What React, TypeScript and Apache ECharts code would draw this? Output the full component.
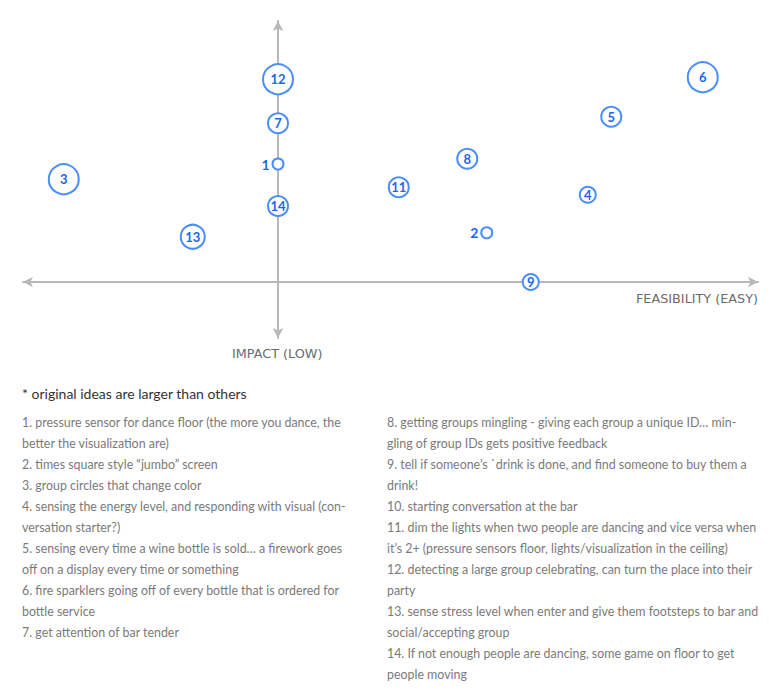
import React, { useEffect, useRef } from "react";
import * as echarts from "echarts";

// idea number, feasibility (x), impact (y)
const ideaIds = [1, 2, 3, 4, 5, 6, 7, 8, 9, 11, 12, 13, 14];
const feasibility = [0, 8.35, -8.57, 12.39, 13.33, 16.99, 0, 7.57, 10.11, 4.83, 0, -3.41, 0];
const impact = [4.72, 1.97, 4.11, 3.49, 6.61, 8.19, 6.35, 4.93, 0, 3.79, 8.11, 1.81, 3.04];
// relative size of each idea's marker (original ideas are larger)
const ideaWeight = [1, 1, 5, 2, 3, 5, 3, 3, 2, 3, 5, 4, 3];

const xAxisName = "FEASIBILITY (EASY)";
const yAxisName = "IMPACT (LOW)";
const footnote = "* original ideas are larger than others";

const leftColumn = [
  "1. pressure sensor for dance floor (the more you dance, the",
  "better the visualization are)",
  "2. times square style \u201cjumbo\u201d screen",
  "3. group circles that change color",
  "4. sensing the energy level, and responding with visual (con-",
  "versation starter?)",
  "5. sensing every time a wine bottle is sold\u2026 a firework goes",
  "off on a display every time or something",
  "6. fire sparklers going off of every bottle that is ordered for",
  "bottle service",
  "7. get attention of bar tender",
];
const rightColumn = [
  "8. getting groups mingling - giving each group a unique ID\u2026 min-",
  "gling of group IDs gets positive feedback",
  "9. tell if someone\u2019s `drink is done, and find someone to buy them a",
  "drink!",
  "10. starting conversation at the bar",
  "11. dim the lights when two people are dancing and vice versa when",
  "it\u2019s 2+ (pressure sensors floor, lights/visualization in the ceiling)",
  "12. detecting a large group celebrating, can turn the place into their",
  "party",
  "13. sense stress level when enter and give them footsteps to bar and",
  "social/accepting group",
  "14. If not enough people are dancing, some game on floor to get",
  "people moving",
];

const sizeByWeight: Record<number, number> = { 1: 11, 2: 16, 3: 20, 4: 24, 5: 30 };

export default function App() {
  const ref = useRef<HTMLDivElement>(null);
  useEffect(() => {
    if (!ref.current) return;
    const chart = echarts.init(ref.current, null, { renderer: "svg" });
    const BLUE_TEXT = "#1a66f0";
    const BLUE_LINE = "#4a8ef7";
    const AXIS = "#b8b8b8";

    const data = ideaIds.map((id, i) => {
      const small = ideaWeight[i] === 1;
      return {
        value: [feasibility[i], impact[i], id],
        symbolSize: sizeByWeight[ideaWeight[i]],
        label: small
          ? { show: true, position: "left", distance: 2, formatter: String(id), fontSize: 14 }
          : { show: true, position: "inside", formatter: String(id), fontSize: 13 },
      };
    });

    const textBlock = (lines: string[], x: number, y0: number) =>
      lines.map((t, i) => ({
        type: "text",
        left: x,
        top: y0 + i * 21,
        style: { text: t, fill: "#7a7a7a", font: "12.4px Lato", textVerticalAlign: "top" },
      }));

    chart.setOption({
      animation: false,
      backgroundColor: "#ffffff",
      grid: { left: 23, right: 21, top: 21, bottom: 361, containLabel: false },
      xAxis: {
        type: "value",
        min: -10.2,
        max: 19.2,
        splitLine: { show: false },
        axisTick: { show: false },
        axisLabel: { show: false },
        axisLine: {
          show: true,
          onZero: true,
          symbol: ["arrow", "arrow"],
          symbolSize: [8, 10],
          lineStyle: { color: AXIS, width: 2 },
        },
      },
      yAxis: {
        type: "value",
        min: -2.24,
        max: 10.44,
        splitLine: { show: false },
        axisTick: { show: false },
        axisLabel: { show: false },
        axisLine: {
          show: true,
          onZero: true,
          symbol: ["arrow", "arrow"],
          symbolSize: [8, 10],
          lineStyle: { color: AXIS, width: 2 },
        },
      },
      series: [
        {
          type: "scatter",
          symbol: "circle",
          data,
          itemStyle: { color: "#ffffff", borderColor: BLUE_LINE, borderWidth: 2, opacity: 1 },
          label: {
            color: BLUE_TEXT,
            fontWeight: "bold",
            fontFamily: "Lato",
          },
          z: 5,
        },
      ],
      graphic: [
        {
          type: "text",
          left: 232,
          top: 347,
          style: { text: yAxisName, fill: "#6b6b6b", font: "12.8px 'DejaVu Sans'", textVerticalAlign: "top" },
        },
        {
          type: "text",
          right: 21,
          top: 292,
          style: { text: xAxisName, fill: "#6b6b6b", font: "12.8px 'DejaVu Sans'", textVerticalAlign: "top" },
        },
        {
          type: "text",
          left: 22,
          top: 386,
          style: { text: footnote, fill: "#333333", font: "14px Lato", textVerticalAlign: "top" },
        },
        ...textBlock(leftColumn, 22, 416),
        ...textBlock(rightColumn, 387, 416),
      ],
    });
    return () => chart.dispose();
  }, []);
  return (
    <div
      ref={ref}
      style={{ position: "fixed", left: 0, top: 0, width: 779, height: 699, background: "#fff" }}
    />
  );
}
